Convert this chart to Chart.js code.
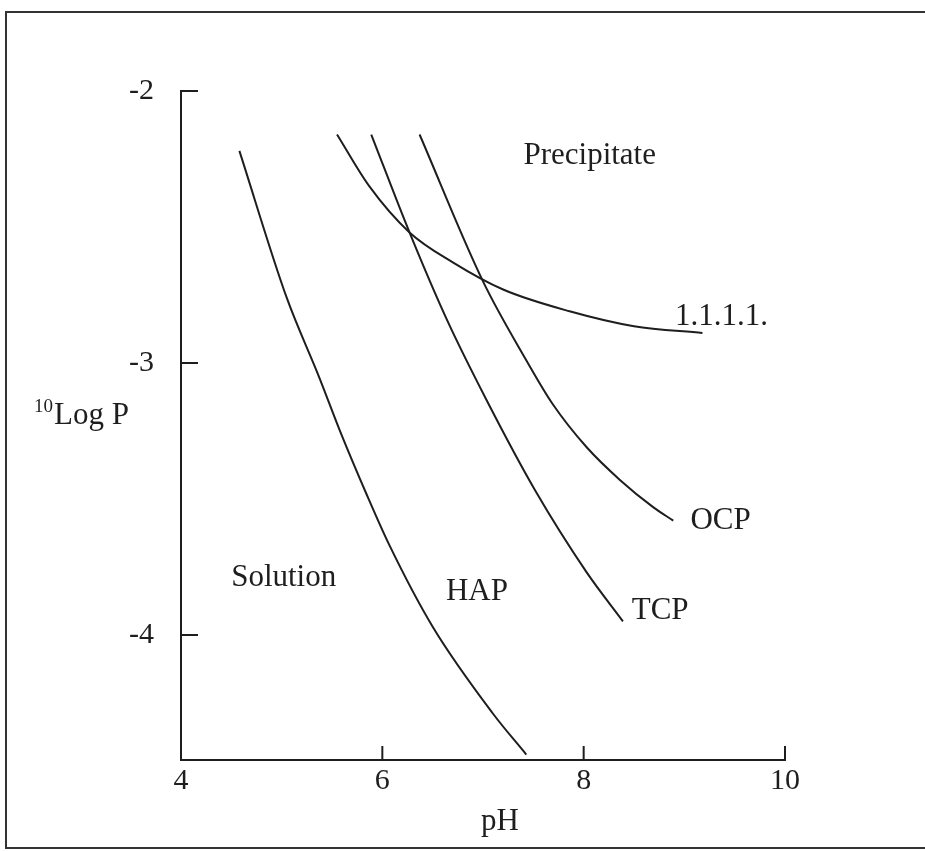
<!DOCTYPE html>
<html>
<head>
<meta charset="utf-8">
<script src="https://cdn.jsdelivr.net/npm/chart.js@4/dist/chart.umd.min.js"></script>
<style>
  html, body { margin: 0; padding: 0; background: #fff; }
  #wrap { position: relative; width: 925px; height: 851px; overflow: hidden; }
  #frame {
    position: absolute; left: 5px; top: 11px; width: 940px; height: 834px;
    border-left: 2px solid #333; border-top: 2px solid #333; border-bottom: 2px solid #333;
  }
  #chart { position: absolute; left: 0; top: 0; }
</style>
</head>
<body>
<div id="wrap">
  <div id="frame"></div>
  <canvas id="chart" width="925" height="851"></canvas>
</div>
<script>
// axis ticks
const xTicks = [4, 6, 8, 10];
const yTicks = [-2, -3, -4];

// boundary curves (pH, log P)
const hapPH   = [4.58, 5.05, 5.37, 5.59, 5.84, 6.07, 6.50, 7.10, 7.43];
const hapLogP = [-2.22, -2.76, -3.05, -3.26, -3.48, -3.67, -3.97, -4.29, -4.44];

const iaPH   = [5.55, 5.87, 6.27, 6.70, 7.20, 7.86, 8.50, 9.18];
const iaLogP = [-2.16, -2.35, -2.52, -2.63, -2.73, -2.81, -2.865, -2.89];

const tcpPH   = [5.89, 6.27, 6.64, 7.04, 7.52, 8.03, 8.39];
const tcpLogP = [-2.16, -2.52, -2.84, -3.14, -3.47, -3.77, -3.95];

const ocpPH   = [6.37, 7.00, 7.43, 7.69, 8.03, 8.36, 8.69, 8.89];
const ocpLogP = [-2.16, -2.70, -2.99, -3.15, -3.31, -3.43, -3.53, -3.58];

// region / curve names
const labelTexts = ["Precipitate", "1.1.1.1.", "OCP", "Solution", "HAP", "TCP"];
const labelPH    = [8.06, 9.37, 9.36, 5.02, 6.94, 8.76];
const labelLogP  = [-2.24, -2.83, -3.58, -3.79, -3.84, -3.91];

const SERIF = "'Liberation Serif', 'DejaVu Serif', serif";
const INK = "#1e1e1e";

function toPoints(xs, ys) {
  return xs.map((x, i) => ({ x, y: ys[i] }));
}

function curve(xs, ys) {
  return {
    data: toPoints(xs, ys),
    showLine: true,
    borderColor: INK,
    borderWidth: 2,
    pointRadius: 0,
    cubicInterpolationMode: "monotone"
  };
}

const innerTicks = {
  id: "innerTicks",
  afterDraw(chart) {
    const { ctx, chartArea, scales } = chart;
    ctx.save();
    ctx.strokeStyle = INK;
    ctx.lineWidth = 2;
    ctx.beginPath();
    xTicks.slice(1).forEach(v => {
      const px = scales.x.getPixelForValue(v);
      ctx.moveTo(px, chartArea.bottom);
      ctx.lineTo(px, chartArea.bottom - 14);
    });
    yTicks.forEach(v => {
      const py = scales.y.getPixelForValue(v);
      ctx.moveTo(chartArea.left, py);
      ctx.lineTo(chartArea.left + 17, py);
    });
    ctx.stroke();

    // curve and region names
    ctx.fillStyle = INK;
    ctx.font = `31px ${SERIF}`;
    ctx.textAlign = "center";
    ctx.textBaseline = "middle";
    labelTexts.forEach((text, i) => {
      ctx.fillText(text, scales.x.getPixelForValue(labelPH[i]), scales.y.getPixelForValue(labelLogP[i]));
    });

    // x axis title
    ctx.fillText("pH", 500, 822);

    // y axis title with superscript 10
    ctx.textAlign = "left";
    ctx.textBaseline = "alphabetic";
    ctx.font = `19px ${SERIF}`;
    ctx.fillText("10", 34, 412);
    ctx.font = `31px ${SERIF}`;
    ctx.fillText("Log P", 54, 424);
    ctx.restore();
  }
};

new Chart(document.getElementById("chart"), {
  type: "scatter",
  data: {
    datasets: [
      curve(hapPH, hapLogP),
      curve(iaPH, iaLogP),
      curve(tcpPH, tcpLogP),
      curve(ocpPH, ocpLogP)
    ]
  },
  options: {
    responsive: false,
    devicePixelRatio: 1,
    animation: false,
    layout: { padding: { top: 91, right: 140, left: 0, bottom: 0 } },
    plugins: {
      legend: { display: false },
      tooltip: { enabled: false }
    },
    scales: {
      x: {
        type: "linear",
        min: 4,
        max: 10,
        afterBuildTicks: scale => { scale.ticks = xTicks.map(value => ({ value })); },
        afterFit: scale => { scale.height = 91; },
        grid: { display: false, drawTicks: false },
        border: { display: true, color: INK, width: 2 },
        ticks: { color: INK, padding: 3, font: { family: SERIF, size: 30 } }
      },
      y: {
        type: "linear",
        min: -4.46,
        max: -2,
        afterBuildTicks: scale => { scale.ticks = yTicks.map(value => ({ value })); },
        afterFit: scale => { scale.width = 181; },
        grid: { display: false, drawTicks: false },
        border: { display: true, color: INK, width: 2 },
        ticks: { color: INK, padding: 27, font: { family: SERIF, size: 30 } }
      }
    }
  },
  plugins: [innerTicks]
});
</script>
</body>
</html>
